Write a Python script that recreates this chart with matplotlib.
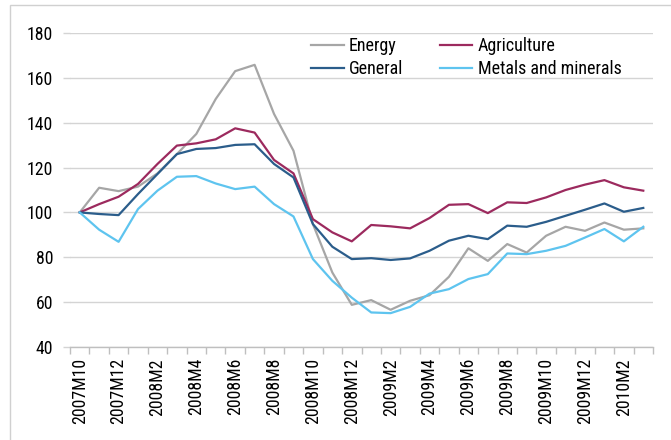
import matplotlib
matplotlib.use("Agg")
import matplotlib.pyplot as plt
from matplotlib.patches import Rectangle
from matplotlib.ticker import FixedLocator

# Monthly index (2007M10 = 100), 2007M10 .. 2010M3
months = (["2007M10", "2007M11", "2007M12"]
          + [f"2008M{m}" for m in range(1, 13)]
          + [f"2009M{m}" for m in range(1, 13)]
          + ["2010M1", "2010M2", "2010M3"])

energy = [100, 111, 109.5, 111.5, 117.4, 126, 135, 150.6, 163, 165.8,
          143.9, 127.5, 94.8, 73.2, 58.8, 60.9, 56.6, 60.6, 63.1, 71.3,
          84, 78.4, 85.9, 82.1, 89.6, 93.6, 91.8, 95.5, 92.3, 92.9]
agriculture = [100, 103.7, 107, 112.7, 121.6, 129.8, 130.8, 132.6, 137.5, 135.6,
               123.4, 117.4, 97, 91.1, 87.1, 94.4, 93.8, 92.9, 97.5, 103.4,
               103.7, 99.7, 104.5, 104.2, 106.7, 110, 112.4, 114.4, 111.2, 109.7]
general = [100, 99.3, 98.8, 108.2, 117.1, 126, 128.3, 128.7, 130.1, 130.4,
           121.6, 115.6, 94.8, 84.7, 79.2, 79.6, 78.8, 79.5, 82.9, 87.4,
           89.6, 88.1, 94.1, 93.6, 95.8, 98.5, 101.2, 104, 100.3, 102]
metals = [100, 92.3, 86.9, 101.5, 109.7, 115.9, 116.2, 112.9, 110.4, 111.5,
          103.7, 98.2, 79.2, 69.5, 62, 55.4, 55.1, 57.9, 63.8, 65.8,
          70.3, 72.5, 81.7, 81.4, 82.9, 85.1, 88.8, 92.6, 87.1, 93.6]

yticks = [40, 60, 80, 100, 120, 140, 160, 180]

plt.rcParams['font.family'] = ['Roboto Condensed', 'Liberation Sans', 'DejaVu Sans']
plt.rcParams['font.size'] = 12.8

fig = plt.figure(figsize=(6.71, 4.40), dpi=100)
ax = fig.add_axes([70 / 671, 1 - 347 / 440, (653 - 70) / 671, (347 - 33) / 440])

# light border around the chart
fig.patches.append(Rectangle((10 / 671, -0.1), 1.2, 1 - 5.5 / 440 + 0.1,
                             transform=fig.transFigure, fill=False,
                             edgecolor='#d0d0d0', linewidth=1.0, zorder=0))

x = list(range(len(months)))
lw = 1.6
h_energy, = ax.plot(x, energy, color='#a6a6a6', linewidth=lw, label='Energy')
h_agri, = ax.plot(x, agriculture, color='#9c2a5e', linewidth=lw, label='Agriculture')
h_gen, = ax.plot(x, general, color='#2b5d8b', linewidth=lw, label='General')
h_met, = ax.plot(x, metals, color='#5ec4ef', linewidth=lw, label='Metals and minerals')

ax.set_xlim(-0.5, len(months) - 0.5)
ax.set_ylim(40, 180)
ax.set_yticks(yticks)
ax.set_yticklabels([str(v) for v in yticks])
ax.yaxis.grid(True, color='#d4d4d4', linewidth=1.0)
ax.set_axisbelow(True)

# category axis: labels every other month, ticks between categories
ax.xaxis.set_major_locator(FixedLocator(x[::2]))
ax.set_xticklabels(months[::2], rotation=90, va='top', ha='center')
ax.xaxis.set_minor_locator(FixedLocator([i - 0.5 for i in range(len(months) + 1)]))
ax.tick_params(axis='x', which='major', length=0, pad=8)
ax.tick_params(axis='x', which='minor', length=5, color='#bfbfbf', width=1.0)
ax.tick_params(axis='y', length=5, color='#d4d4d4', width=1.0, pad=7)

for s in ['left', 'right', 'top']:
    ax.spines[s].set_visible(False)
ax.spines['bottom'].set_color('#bfbfbf')
ax.spines['bottom'].set_linewidth(1.0)

# two single-column legends, placed side by side
leg_kw = dict(frameon=False, loc='upper left', bbox_transform=fig.transFigure,
              handlelength=1.8, handletextpad=0.3, labelspacing=0.3,
              borderpad=0, borderaxespad=0, fontsize=13)
leg1 = ax.legend([h_energy, h_gen], ['Energy', 'General'],
                 bbox_to_anchor=(311 / 671, 1 - 37 / 440), **leg_kw)
ax.add_artist(leg1)
ax.legend([h_agri, h_met], ['Agriculture', 'Metals and minerals'],
          bbox_to_anchor=(440 / 671, 1 - 37 / 440), **leg_kw)

fig.savefig('out.png', dpi=100)
